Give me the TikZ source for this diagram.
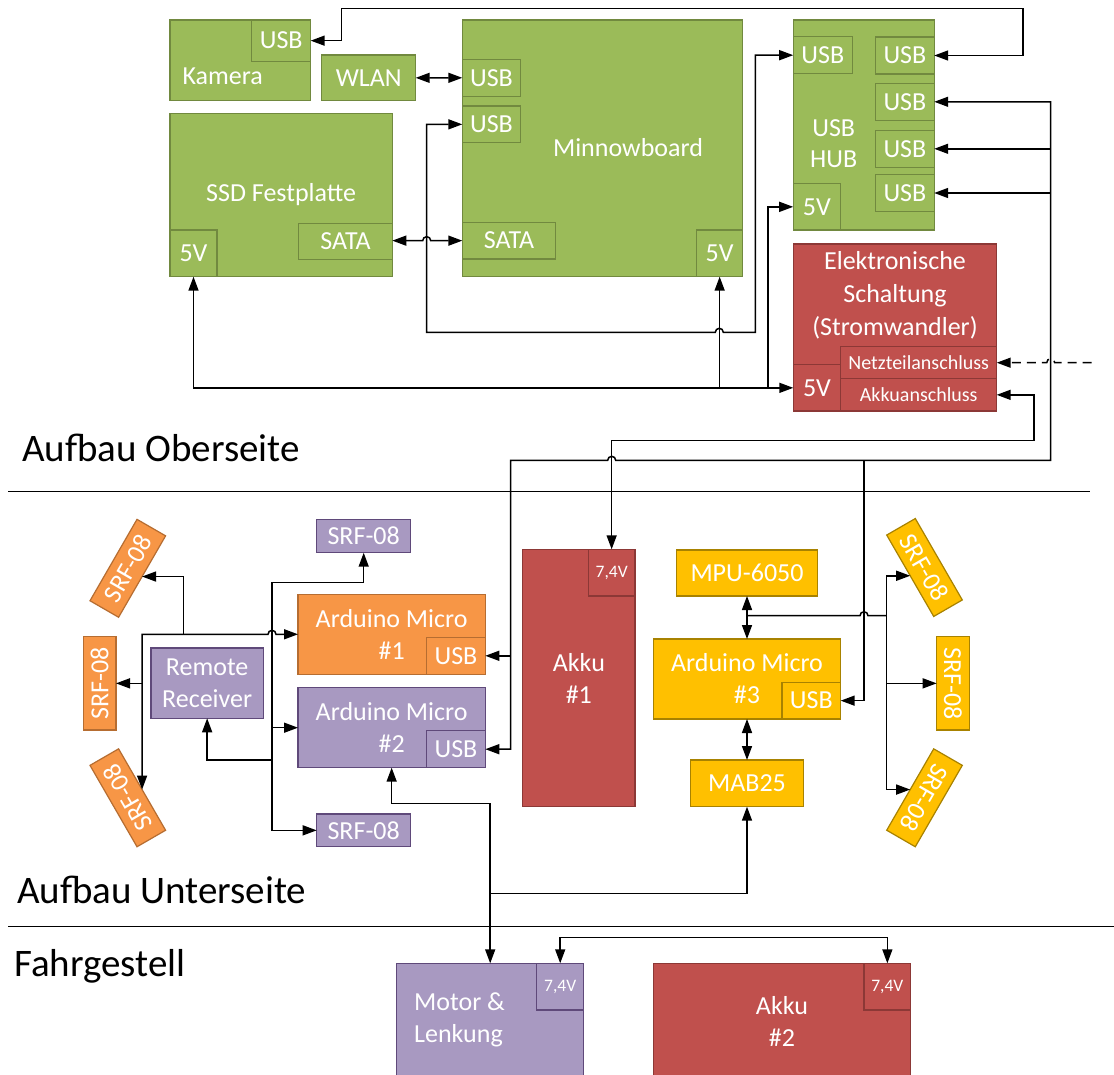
\documentclass[tikz,border=0pt]{standalone}
\usepackage{fontspec}
\setmainfont{Carlito}
\usetikzlibrary{arrows.meta,calc}
\definecolor{gfill}{HTML}{9BBB59}\definecolor{gdraw}{HTML}{71893F}
\definecolor{rfill}{HTML}{C0504D}\definecolor{rdraw}{HTML}{8C3836}
\definecolor{ofill}{HTML}{F79646}\definecolor{odraw}{HTML}{B66D31}
\definecolor{pfill}{HTML}{A899C1}\definecolor{pdraw}{HTML}{5F497A}
\definecolor{yfill}{HTML}{FFC000}\definecolor{ydraw}{HTML}{A88200}
\newcommand\mybox[7]{\node[#2, minimum width=#5pt, minimum height=#6pt] (#1) at (#3,#4) {#7};}
\begin{document}
\begin{tikzpicture}[x=1pt,y=-1pt,
  >={Triangle[length=14pt,width=10pt]},
  box/.style={draw, line width=1.2pt, inner sep=0pt, outer sep=0pt, text=white,
    font=\fontsize{26}{32}\selectfont, align=center},
  gbox/.style={box, fill=gfill, draw=gdraw},
  rbox/.style={box, fill=rfill, draw=rdraw},
  obox/.style={box, fill=ofill, draw=odraw},
  pbox/.style={box, fill=pfill, draw=pdraw},
  ybox/.style={box, fill=yfill, draw=ydraw},
  small/.style={font=\fontsize{20}{24}\selectfont},
  tiny/.style={font=\fontsize{17.5}{21}\selectfont},
  txt/.style={inner sep=0pt, text=white, font=\fontsize{26}{32}\selectfont, align=center},
  title/.style={inner sep=0pt, text=black, font=\fontsize{39}{46}\selectfont, anchor=base west},
  conn/.style={line width=1.5pt, draw=black},
  sep/.style={line width=1pt, draw=black}
]
\useasboundingbox (0,0) rectangle (1114,1075);
\fill[white] (0,0) rectangle (1114,1075);

% ---------------- top ----------------
\mybox{kam}{gbox}{240.35}{60.35}{140.7}{80.7}{}
\mybox{kamusb}{gbox}{281.2}{40.65}{59}{41.3}{USB}
\node[txt] (kamtxt) at (222.7,76) {Kamera};
\mybox{wlan}{gbox}{368.7}{77.85}{94}{45.7}{WLAN}
\mybox{minn}{gbox}{602.55}{148.35}{280.5}{256.7}{}
\node[txt] (minntxt) at (628,148) {Minnowboard};
\mybox{musba}{gbox}{491.5}{77.8}{58.4}{37}{USB}
\mybox{musbb}{gbox}{491.5}{124.35}{58.4}{36.7}{USB}
\mybox{msata}{gbox}{509}{240.65}{93.4}{36.7}{SATA}
\mybox{mfive}{gbox}{719.65}{253.35}{46.3}{46.7}{5V}
\mybox{ssd}{gbox}{281.15}{195}{222.3}{163.4}{SSD Festplatte}
\mybox{sfive}{gbox}{193.5}{253.35}{47}{46.7}{5V}
\mybox{ssata}{gbox}{345.5}{241.5}{93.6}{36.4}{SATA}
\mybox{hub}{gbox}{863.7}{125}{141}{210}{}
\node[txt,font=\fontsize{26}{31}\selectfont] (hubtxt) at (833.7,143.5) {USB\\HUB};
\mybox{husbl}{gbox}{822.85}{55.2}{59.3}{37}{USB}
\mybox{husba}{gbox}{904.9}{55.5}{58.6}{37}{USB}
\mybox{husbb}{gbox}{904.9}{101.8}{58.6}{37}{USB}
\mybox{husbc}{gbox}{904.9}{148.8}{58.6}{37}{USB}
\mybox{husbd}{gbox}{904.9}{193}{58.6}{37.4}{USB}
\mybox{hfive}{gbox}{816.9}{206.85}{47.4}{46.3}{5V}
\mybox{elek}{rbox}{895}{327.5}{203.4}{167}{}
\node[txt,font=\fontsize{26}{33}\selectfont] (elektxt) at (895,295.7) {Elektronische\\Schaltung\\(Stromwandler)};
\mybox{netz}{rbox,small}{918.7}{362.7}{156}{32}{Netzteilanschluss}
\mybox{akkuan}{rbox,small}{918.7}{394.85}{156}{32.3}{Akkuanschluss}
\mybox{efive}{rbox}{817}{387.85}{47.4}{46.3}{5V}

% ---------------- middle ----------------
\mybox{srft}{pbox}{363.7}{536}{94}{33.4}{SRF-08}
\mybox{ardA}{obox}{391.65}{634.3}{187.3}{80}{Arduino Micro\\\#1}
\mybox{ardAusb}{obox}{456}{655.8}{58.6}{37}{USB}
\mybox{ardB}{pbox}{391.65}{727.7}{187.3}{80}{Arduino Micro\\\#2}
\mybox{ardBusb}{pbox}{456}{749.2}{58.6}{37}{USB}
\mybox{rr}{pbox}{207.15}{683.15}{112.3}{70.3}{Remote\\Receiver}
\mybox{srfb}{pbox}{363.7}{830.35}{94}{32.7}{SRF-08}
\node[obox, rotate=90, minimum width=93.3pt, minimum height=32.7pt] (srfl) at (99.65,683.35) {SRF-08};
\node[obox, rotate=60, minimum width=94pt, minimum height=33pt] (srful) at (127.8,568.3) {SRF-08};
\node[obox, rotate=120, minimum width=94pt, minimum height=33pt] (srfll) at (127.8,797.8) {SRF-08};
\node[ybox, rotate=-90, minimum width=93.3pt, minimum height=32.7pt] (srfr) at (953,683.35) {SRF-08};
\node[ybox, rotate=-60, minimum width=94pt, minimum height=33pt] (srfur) at (924.5,567.5) {SRF-08};
\node[ybox, rotate=-120, minimum width=94pt, minimum height=33pt] (srflr) at (924.5,797.8) {SRF-08};
\mybox{akkuA}{rbox}{578.85}{678}{112.3}{257.4}{Akku\\\#1}
\mybox{akkuAv}{rbox,tiny}{611.65}{572.65}{46.7}{46.7}{7,4V}
\mybox{mpu}{ybox}{747}{573}{140.6}{46}{MPU-6050}
\mybox{ardC}{ybox}{747}{679}{187.4}{80}{Arduino Micro\\\#3}
\mybox{ardCusb}{ybox}{811.35}{700.65}{58.7}{36.7}{USB}
\mybox{mab}{ybox}{747}{783.35}{112.6}{46.7}{MAB25}

% ---------------- bottom ----------------
\mybox{motor}{pbox}{490.2}{1021.7}{186.8}{116.7}{}
\node[txt, anchor=west, align=left] (motortxt) at (414,1020) {Motor \&\\Lenkung};
\mybox{motorv}{pbox,tiny}{560.2}{986.65}{46.8}{46.7}{7,4V}
\mybox{akkuB}{rbox}{781.95}{1021.65}{257.5}{116.7}{Akku\\\#2}
\mybox{akkuBv}{rbox,tiny}{887.35}{986.65}{46.7}{46.7}{7,4V}

% ---------------- titles / separators ----------------
\node[title] (t1) at (22,461) {Aufbau Oberseite};
\node[title] (t2) at (17,903) {Aufbau Unterseite};
\node[title] (t3) at (14,976) {Fahrgestell};
\draw[sep] (8,491) -- (1090,491);
\draw[sep] (8,926) -- (1114,926);

% ---------------- connectors: top ----------------
\draw[conn,<->] (husba.east) -- (1022.8,55.5) -- (1022.8,8.3) -- (341.7,8.3) |- (kamusb.east);
\draw[conn,<->] (wlan.east) -- (musba.west);
\draw[conn,<->] (ssata.east |- msata.west) -- (422.7,240.65) arc[start angle=180,end angle=360,radius=4] -- (msata.west);
\draw[conn,<->] (husbl.west) -- (755.4,55.2) -- (755.4,332.3) -- (723.3,332.3) arc[start angle=0,end angle=-180,radius=4] -- (426.7,332.3) |- (musbb.west);
\draw[conn,<->] (sfive.south) |- (efive.west);
\draw[conn,->] (mfive.south |- efive.west) -- (mfive.south);
\coordinate (hubpow) at (768,387.85);
\draw[conn,->] (hubpow) |- (hfive.west);
\coordinate (netzsrc) at (1091.7,362.7);
\draw[conn,dash pattern=on 9pt off 6pt,->] (netzsrc) -- (1054.7,362.7) arc[start angle=0,end angle=-180,radius=4] -- (netz.east);

% USB bus
\draw[conn,<->] (husbb.east) -- (1050.7,101.8) -- (1050.7,460.3) -- (615.7,460.3) arc[start angle=0,end angle=-180,radius=4] -- (510.7,460.3) |- (ardBusb.east);
\draw[conn,->] (1050.7,148.8) -- (husbc.east);
\draw[conn,->] (1050.7,193) -- (husbd.east);
\draw[conn,->] (864,460.3) |- (ardCusb.east);
\draw[conn,->] (510.7,655.8) -- (ardAusb.east);

% Akku bus
\draw[conn,<->] (akkuan.east) -- (1034,394.85) -- (1034,440.7) -| (akkuAv.north);

% MPU / Arduino 3 bus
\draw[conn,<->] (mpu.south) -- (ardC.north);
\draw[conn] (747,615.7) -- (860,615.7) arc[start angle=180,end angle=360,radius=4] -- (886.7,615.7);
\draw[conn,->] (886.7,615.7) |- (srfur.south);
\draw[conn,->] (886.7,615.7) |- (srflr.south);
\draw[conn,->] (886.7,683.35) -- (srfr.south);
\draw[conn,<->] (ardC.south) -- (mab.north);

% left bus
\draw[conn,<->] (srfll.south) -- (142.1,634.3) -- (268,634.3) arc[start angle=180,end angle=360,radius=4] -- (ardA.west);
\draw[conn,->] (183.3,634.3) |- (srful.south);
\draw[conn,->] (142.1,683.35) -- (srfl.south);

% trunk
\draw[conn,<->] (srft.south) |- (272,582.7) |- (srfb.west);
\draw[conn,->] (272,727.7) -- (ardB.west);
\draw[conn,->] (272,760) -| (rr.south);

% Arduino 2 to motor / MAB25
\draw[conn,<->] (ardB.south) |- (490.2,803.3) -- (motor.north);
\draw[conn,->] (490.2,893.3) -| (mab.south);

% 7,4V
\draw[conn,<->] (motorv.north) -- ++(0,-25.6) -| (akkuBv.north);
\end{tikzpicture}
\end{document}
